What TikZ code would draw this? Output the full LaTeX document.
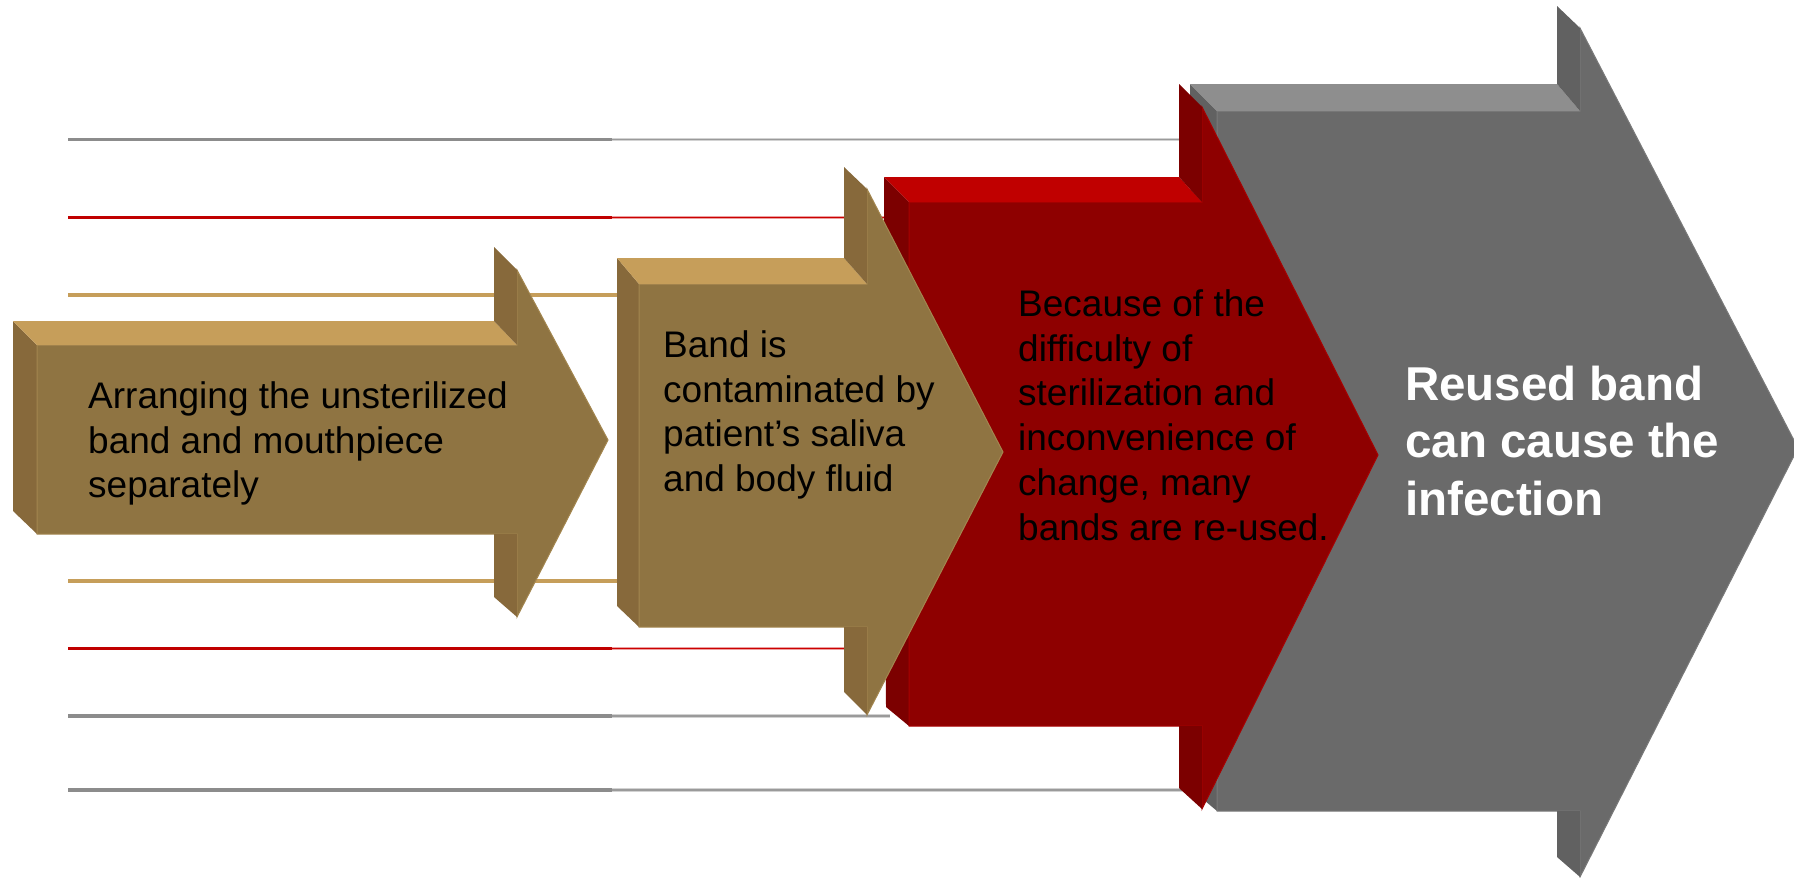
\documentclass[tikz,border=0pt]{standalone}
\usepackage{fontspec}
\setmainfont{Liberation Sans}
\definecolor{tanF}{HTML}{8F7442}
\definecolor{tanT}{HTML}{C69E5A}
\definecolor{tanS}{HTML}{87693B}
\definecolor{tanE}{HTML}{A3864F}
\definecolor{redF}{HTML}{8E0000}
\definecolor{redT}{HTML}{C00000}
\definecolor{redS}{HTML}{7C0000}
\definecolor{redE}{HTML}{A80000}
\definecolor{grF}{HTML}{6A6A6A}
\definecolor{grT}{HTML}{8E8E8E}
\definecolor{grS}{HTML}{616161}
\definecolor{grE}{HTML}{7A7A7A}
\definecolor{lnGray}{HTML}{8C8C8C}
\definecolor{lnGrayC}{HTML}{9A9A9A}
\definecolor{lnGrayH}{HTML}{D2D2D2}
\definecolor{lnRed}{HTML}{C00000}
\definecolor{lnRedC}{HTML}{CC0000}
\definecolor{lnRedH}{HTML}{EBA0A0}
\definecolor{lnTan}{HTML}{C69E5A}
\newcommand\firstline{\rule{0pt}{30pt}}
\newcommand\firstbold{\rule{0pt}{38pt}}
\tikzset{
  lineA/.style={line width=3.2pt},
  halo/.style={line width=3.4pt},
  core/.style={line width=1.7pt},
  txt/.style={anchor=north west, inner sep=0pt, align=left,
    font=\fontsize{37}{44.8}\selectfont, text=black},
  bigtxt/.style={anchor=north west, inner sep=0pt, align=left,
    font=\fontsize{47.5}{57.5}\selectfont\bfseries, text=white},
}
\begin{document}
\begin{tikzpicture}[x=1pt,y=-1pt]
\useasboundingbox (0,0) rectangle (1794,878);
% background lines: left segments
\draw[lineA,lnGray] (68,139.5) -- (612,139.5);
\draw[lineA,lnRed]  (68,217.5) -- (612,217.5);
\draw[lineA,lnTan]  (68,295) -- (620,295);
\draw[lineA,lnTan]  (68,581) -- (620,581);
\draw[lineA,lnRed]  (68,648.5) -- (612,648.5);
\draw[lineA,lnGray] (68,716) -- (612,716);
\draw[lineA,lnGray] (68,790) -- (612,790);
% background lines: right segments
\draw[halo,lnGrayH] (612,139.5) -- (1200,139.5);
\draw[core,lnGrayC] (612,139.5) -- (1200,139.5);
\draw[halo,lnRedH]  (612,217.5) -- (890,217.5);
\draw[core,lnRedC]  (612,217.5) -- (890,217.5);
\draw[halo,lnRedH]  (612,648.5) -- (890,648.5);
\draw[core,lnRedC]  (612,648.5) -- (890,648.5);
\draw[halo,lnGrayH] (612,716) -- (890,716);
\draw[core,lnGrayC] (612,716) -- (890,716);
\draw[halo,lnGrayH] (612,790) -- (1200,790);
\draw[core,lnGrayC] (612,790) -- (1200,790);
% arrow 4 (gray)
\fill[grS] (1190,84) -- (1217,111) -- (1217,811) -- (1192,790) -- cycle;
\fill[grF, draw=grE, line width=1pt] (1217,111) -- (1580,111) -- (1580,28) -- (1798,448) -- (1580,877) -- (1580,811) -- (1217,811) -- cycle;
\fill[grT] (1190,84) -- (1557,84) -- (1580,111) -- (1217,111) -- cycle;
\fill[grS] (1557,6) -- (1580,28) -- (1580,111) -- (1557,84) -- cycle;
\fill[grS] (1557,811) -- (1580,811) -- (1580,877) -- (1557,857) -- cycle;
% arrow 3 (red)
\fill[redS] (884,177) -- (909,202) -- (909,726) -- (886,707) -- cycle;
\fill[redF, draw=redE, line width=1pt] (909,202) -- (1202,202) -- (1202,107) -- (1378,455) -- (1202,809) -- (1202,726) -- (909,726) -- cycle;
\fill[redT] (884,177) -- (1179,177) -- (1202,202) -- (909,202) -- cycle;
\fill[redS] (1179,84) -- (1202,107) -- (1202,202) -- (1179,177) -- cycle;
\fill[redS] (1179,726) -- (1202,726) -- (1202,809) -- (1179,788) -- cycle;
% arrow 2 (tan)
\fill[tanS] (617,258) -- (639,284) -- (639,627) -- (617,606) -- cycle;
\fill[tanF, draw=tanE, line width=1pt] (639,284) -- (867,284) -- (867,189) -- (1003,452) -- (867,715) -- (867,627) -- (639,627) -- cycle;
\fill[tanT] (617,258) -- (844,258) -- (867,284) -- (639,284) -- cycle;
\fill[tanS] (844,167) -- (867,189) -- (867,284) -- (844,258) -- cycle;
\fill[tanS] (844,627) -- (867,627) -- (867,715) -- (844,692) -- cycle;
% arrow 1 (tan)
\fill[tanS] (13,321) -- (37,345) -- (37,534) -- (13,511) -- cycle;
\fill[tanF, draw=tanE, line width=1pt] (37,345) -- (517,345) -- (517,270) -- (608,440) -- (517,617) -- (517,534) -- (37,534) -- cycle;
\fill[tanT] (13,321) -- (494,321) -- (517,345) -- (37,345) -- cycle;
\fill[tanS] (494,247) -- (517,270) -- (517,345) -- (494,321) -- cycle;
\fill[tanS] (494,534) -- (517,534) -- (517,617) -- (494,597) -- cycle;
% texts
\node[txt] (t1) at (88,378) {\firstline Arranging the unsterilized\\band and mouthpiece\\separately};
\node[txt] (t2) at (663,327) {\firstline Band is\\contaminated by\\patient’s saliva\\and body fluid};
\node[txt] (t3) at (1018,286) {\firstline Because of the\\difficulty of\\sterilization and\\inconvenience of\\change, many\\bands are re-used.};
\node[bigtxt] (t4) at (1405,362) {\firstbold Reused band\\can cause the\\infection};
\end{tikzpicture}
\end{document}
